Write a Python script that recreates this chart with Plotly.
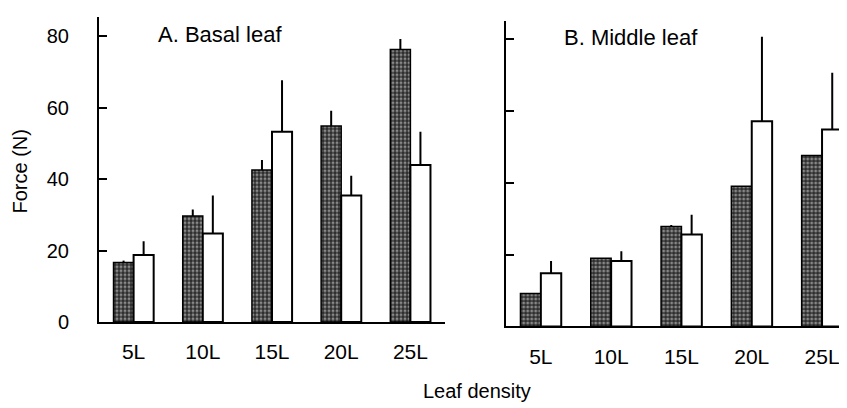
import plotly.graph_objects as go

# leaf density classes
categories = ["5L", "10L", "15L", "20L", "25L"]

# A. basal leaf (dark = hatched bars, white = open bars)
basal_dark = [16.7, 29.7, 42.6, 54.9, 76.3]
basal_dark_err = [0.5, 1.8, 2.8, 4.3, 3.0]
basal_white = [18.8, 24.8, 53.3, 35.4, 44.0]
basal_white_err = [3.8, 10.6, 14.4, 5.6, 9.3]

# B. middle leaf
middle_dark = [9.2, 19.0, 27.8, 39.0, 47.6]
middle_dark_err = [0.0, 0.0, 0.4, 0.0, 0.0]
middle_white = [14.8, 18.2, 25.6, 57.1, 54.8]
middle_white_err = [3.4, 2.7, 5.5, 23.5, 15.8]

yticks = [0, 20, 40, 60, 80]

FONT = "Liberation Sans, Arial, sans-serif"
# the page puts the figure 8px in from the left
OFF_X = 8
W, H = 847 - OFF_X, 408


def px(x):
    return (x - OFF_X) / W


def py(y):
    return (H - y) / H


hatch = dict(shape=".", bgcolor="#2b2b2b", fgcolor="#e6e6e6",
             size=4, solidity=0.45, fillmode="overlay")


def bar_pair(fig, dark, dark_err, white, white_err, xa, ya):
    fig.add_trace(go.Bar(
        x=categories, y=dark, xaxis=xa, yaxis=ya, showlegend=False,
        marker=dict(color="#2b2b2b", pattern=hatch,
                    line=dict(color="black", width=1.5)),
        error_y=dict(type="data", array=dark_err, arrayminus=[0] * 5,
                     symmetric=False, color="black", thickness=2, width=0),
    ))
    fig.add_trace(go.Bar(
        x=categories, y=white, xaxis=xa, yaxis=ya, showlegend=False,
        marker=dict(color="white", line=dict(color="black", width=2)),
        error_y=dict(type="data", array=white_err, arrayminus=[0] * 5,
                     symmetric=False, color="black", thickness=2, width=0),
    ))


fig = go.Figure()
bar_pair(fig, basal_dark, basal_dark_err, basal_white, basal_white_err, "x", "y")
bar_pair(fig, middle_dark, middle_dark_err, middle_white, middle_white_err, "x2", "y2")

xcommon = dict(showline=True, linecolor="black", linewidth=2, ticks="",
               tickfont=dict(family=FONT, size=21, color="black"),
               ticklabelstandoff=10, showgrid=False, zeroline=False)
ycommon = dict(showline=True, linecolor="black", linewidth=2, ticks="inside",
               ticklen=8, tickwidth=2, tickcolor="black", tickvals=yticks,
               showgrid=False, zeroline=False,
               tickfont=dict(family=FONT, size=20, color="black"))

fig.update_layout(
    width=W, height=H,
    margin=dict(l=0, r=0, t=0, b=0),
    paper_bgcolor="white", plot_bgcolor="white",
    barmode="group", bargap=0.42, bargroupgap=0,
    xaxis=dict(xcommon, domain=[px(99), px(445)], range=[-0.5, 4.5], anchor="y"),
    yaxis=dict(ycommon, domain=[py(322.7), py(9)], range=[0, 85.5],
               anchor="x", ticklabelstandoff=24),
    xaxis2=dict(xcommon, domain=[px(505.7), 1.0], range=[-0.5, 4.355], anchor="y2"),
    yaxis2=dict(ycommon, domain=[py(327.3), py(13.3)], range=[0, 85],
                anchor="x2", showticklabels=False),
    annotations=[
        dict(text="A. Basal leaf", x=px(156), y=py(27), xref="paper", yref="paper",
             xanchor="left", yanchor="middle", showarrow=False,
             font=dict(family=FONT, size=22, color="black")),
        dict(text="B. Middle leaf", x=px(562), y=py(30), xref="paper", yref="paper",
             xanchor="left", yanchor="middle", showarrow=False,
             font=dict(family=FONT, size=22, color="black")),
        dict(text="Force (N)", x=px(20), y=py(168), xref="paper", yref="paper",
             xanchor="center", yanchor="middle", showarrow=False, textangle=-90,
             font=dict(family=FONT, size=20, color="black")),
        dict(text="Leaf density", x=px(477), y=py(394), xref="paper", yref="paper",
             xanchor="center", yanchor="middle", showarrow=False,
             font=dict(family=FONT, size=20, color="black")),
    ],
)

fig.write_html("out.html")
